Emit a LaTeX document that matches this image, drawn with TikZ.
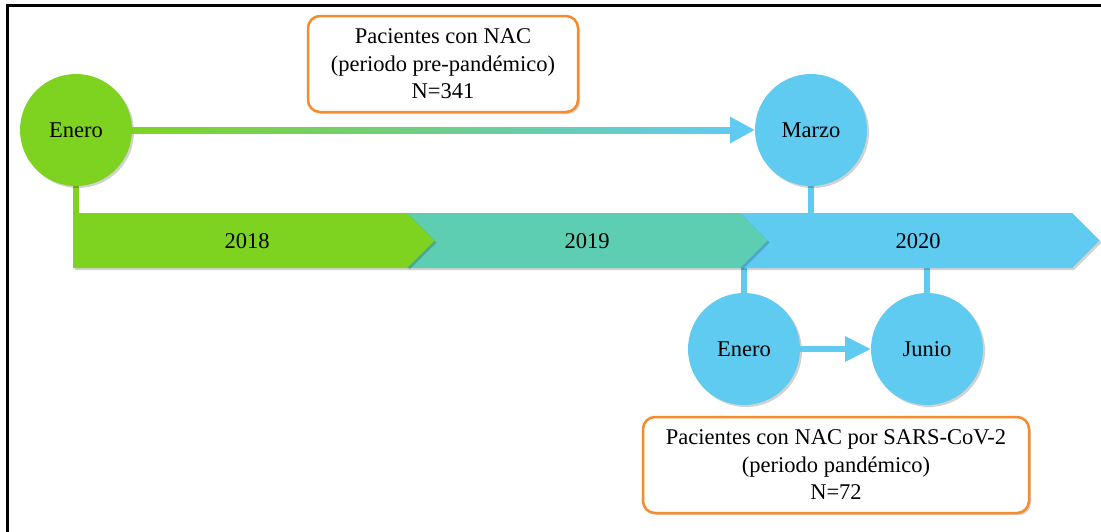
\documentclass[tikz,border=0pt]{standalone}
\usepackage{fontspec}
\setmainfont{Liberation Serif}
\usetikzlibrary{shadows,arrows.meta,calc}
\pgfdeclarelayer{bg}
\pgfsetlayers{bg,main}
\definecolor{cgreen}{RGB}{126,211,33}
\definecolor{cteal}{RGB}{93,206,177}
\definecolor{cblue}{RGB}{95,203,241}
\definecolor{corange}{RGB}{246,139,44}
\tikzset{
  softshadow/.style={drop shadow={shadow xshift=2pt,shadow yshift=-2pt,opacity=0.18,fill=black}},
  month/.style={circle,minimum size=112pt,inner sep=0pt,outer sep=0pt,softshadow},
  conn/.style={line width=6pt},
  infobox/.style={draw=corange,line width=2.5pt,fill=white,rounded corners=12pt,align=center,inner sep=0pt,softshadow},
  seg/.style={softshadow}
}
\begin{document}
\begin{tikzpicture}[x=1pt,y=-1pt,font=\fontsize{22.5}{27.5}\selectfont]
\useasboundingbox (0,0) rectangle (1101,531);
% month circles
\node[month,fill=cgreen] (e1) at (76,130) {Enero};
\node[month,fill=cblue] (m) at (811,130) {Marzo};
\node[month,fill=cblue] (e2) at (744,349) {Enero};
\node[month,fill=cblue] (j) at (927,349) {Junio};
% anchor coordinates on bar
\coordinate (b1) at (76,215);
\coordinate (b2) at (811,215);
\coordinate (b3) at (744,266);
\coordinate (b4) at (927,266);
\begin{pgfonlayer}{bg}
% frame
\draw[line width=3pt,black] (7.5,540) -- (7.5,5.5) -- (1110,5.5);
% connectors
\draw[conn,draw=cgreen] (e1.south) -- (b1);
\draw[conn,draw=cblue] (m.south) -- (b2);
\draw[conn,draw=cblue] (b3) -- (e2.north);
\draw[conn,draw=cblue] (b4) -- (j.north);
% timeline bar
\fill[cblue,seg] (740,213) -- (1072,213) -- (1099.5,240.5) -- (1072,268) -- (740,268) -- cycle;
\fill[cteal,seg] (407,213) -- (740,213) -- (767.5,240.5) -- (740,268) -- (407,268) -- cycle;
\fill[cgreen,seg] (73,213) -- (407,213) -- (434.5,240.5) -- (407,268) -- (73,268) -- cycle;
\end{pgfonlayer}
\node (y18) at (247,241) {2018};
\node (y19) at (587,241) {2019};
\node (y20) at (918,241) {2020};
% arrows
\draw[conn,draw=cblue,-{Triangle[length=25pt,width=25pt]}] (e1) -- (m);
\shade[left color=cgreen,right color=cblue] ($(e1.east)+(0,-3)$) rectangle ($(m.west)+(-24,3)$);
\draw[conn,draw=cblue,-{Triangle[length=26pt,width=24pt]}] (e2) -- (j);
% info boxes
\node[infobox,minimum width=270pt,minimum height=96pt] (box1) at (443,64)
  {Pacientes con NAC\\(periodo pre-pandémico)\\N=341};
\node[infobox,minimum width=386pt,minimum height=96pt] (box2) at (836,465)
  {Pacientes con NAC por SARS-CoV-2\\(periodo pandémico)\\N=72};
\end{tikzpicture}
\end{document}
